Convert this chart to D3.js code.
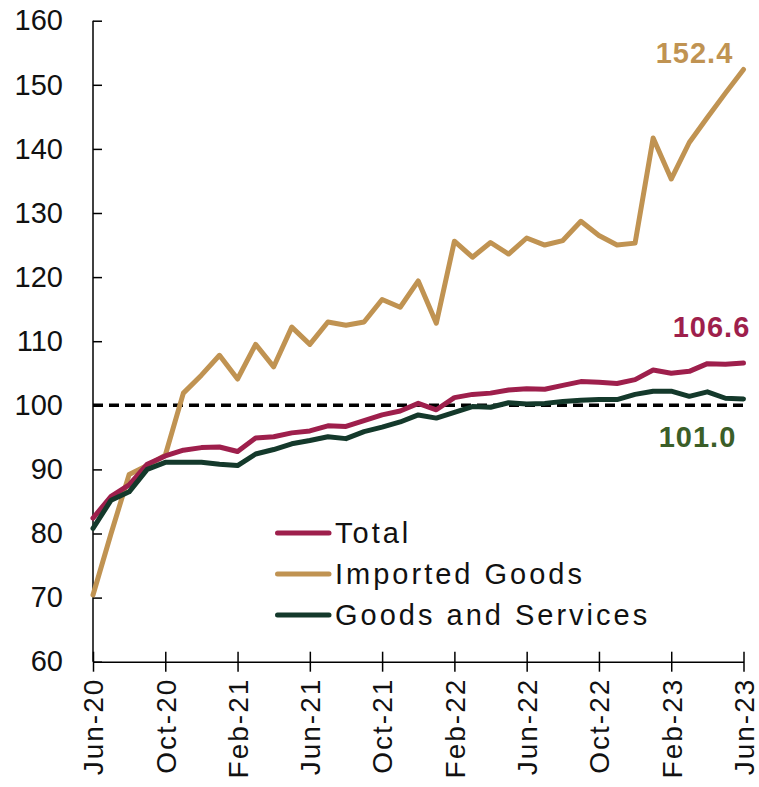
<!DOCTYPE html>
<html>
<head>
<meta charset="utf-8">
<script src="https://cdn.jsdelivr.net/npm/d3@7"></script>
<style>
  body { margin: 0; background: #fff; }
  text { font-family: "Liberation Sans", "DejaVu Sans", sans-serif; }
</style>
</head>
<body>
<svg id="chart" width="759" height="787"></svg>
<script>
// months Jun-20 .. Jun-23
var months = ["Jun-20","Jul-20","Aug-20","Sep-20","Oct-20","Nov-20","Dec-20","Jan-21","Feb-21","Mar-21","Apr-21","May-21",
  "Jun-21","Jul-21","Aug-21","Sep-21","Oct-21","Nov-21","Dec-21","Jan-22","Feb-22","Mar-22","Apr-22","May-22",
  "Jun-22","Jul-22","Aug-22","Sep-22","Oct-22","Nov-22","Dec-22","Jan-23","Feb-23","Mar-23","Apr-23","May-23","Jun-23"];

var total = [82.4,85.8,87.6,90.8,92.1,93.0,93.4,93.5,92.8,94.9,95.1,95.7,
  96.0,96.8,96.7,97.6,98.5,99.1,100.3,99.3,101.2,101.7,101.9,102.4,
  102.6,102.5,103.1,103.7,103.6,103.4,104.0,105.5,105.0,105.3,106.5,106.4,106.6];

var imported = [70.4,80.0,89.2,90.6,92.2,101.9,104.7,107.8,104.1,109.5,106.0,112.2,
  109.5,113.0,112.5,113.0,116.5,115.3,119.4,112.8,125.6,123.1,125.4,123.6,
  126.1,125.0,125.7,128.7,126.5,125.0,125.3,141.7,135.3,141.0,144.9,148.7,152.4];

var goodsServices = [80.8,85.2,86.5,90.0,91.1,91.1,91.1,90.8,90.6,92.4,93.1,94.0,
  94.5,95.1,94.8,95.9,96.6,97.4,98.5,98.0,98.9,99.8,99.7,100.4,
  100.2,100.3,100.6,100.8,100.9,100.9,101.7,102.2,102.2,101.4,102.1,101.1,101.0];

var yTicks = [60,70,80,90,100,110,120,130,140,150,160];
var xTickLabels = ["Jun-20","Oct-20","Feb-21","Jun-21","Oct-21","Feb-22","Jun-22","Oct-22","Feb-23","Jun-23"];

var series = [
  { name: "Total", values: total, color: "#9e1f4c", label: "106.6", labelColor: "#9e1f4c" },
  { name: "Imported Goods", values: imported, color: "#c09352", label: "152.4", labelColor: "#c09352" },
  { name: "Goods and Services", values: goodsServices, color: "#14392b", label: "101.0", labelColor: "#3b5e28" }
];

var margin = { top: 20.7, right: 15.5, bottom: 125.3, left: 93 };
var width = 759 - margin.left - margin.right,
    height = 787 - margin.top - margin.bottom;

var svg = d3.select("#chart");
var g = svg.append("g").attr("transform", "translate(" + margin.left + "," + margin.top + ")");

var x = d3.scalePoint().domain(months).range([0, width]);
var y = d3.scaleLinear().domain([60, 160]).range([height, 0]);

// y axis, ticks pointing inward
var yAxis = d3.axisRight(y).tickValues(yTicks).tickSize(9).tickFormat(d3.format("d"));
var yg = g.append("g").call(yAxis);
yg.select(".domain").attr("d", "M0," + height + "V0").attr("stroke", "#000").attr("stroke-width", 1.5);
yg.selectAll(".tick line").attr("stroke-width", 1.5);
yg.selectAll(".tick text")
  .attr("x", -30).attr("text-anchor", "end")
  .style("font-size", "29px").attr("fill", "#111");

// x axis, crossing ticks
var xAxis = d3.axisBottom(x).tickValues(xTickLabels).tickSize(10).tickSizeOuter(0);
var xg = g.append("g").attr("transform", "translate(0," + height + ")").call(xAxis);
xg.select(".domain").attr("stroke-width", 1.5);
xg.selectAll(".tick line").attr("y1", -10).attr("stroke-width", 1.5);
xg.selectAll(".tick text")
  .attr("transform", "rotate(-90)")
  .attr("x", -16).attr("y", 0).attr("dy", "0.35em")
  .attr("text-anchor", "end")
  .style("font-size", "28px").style("letter-spacing", "2px").attr("fill", "#111");

// reference line at 100
g.append("line")
  .attr("x1", 0).attr("x2", width)
  .attr("y1", y(100)).attr("y2", y(100))
  .attr("stroke", "#000").attr("stroke-width", 3.5)
  .attr("stroke-dasharray", "10,6");

var line = d3.line()
  .x(function (d, i) { return x(months[i]); })
  .y(function (d) { return y(d); });

// draw imported first so total and goods sit on top
[series[1], series[0], series[2]].forEach(function (s) {
  g.append("path")
    .datum(s.values)
    .attr("fill", "none")
    .attr("stroke", s.color)
    .attr("stroke-width", 5)
    .attr("stroke-linejoin", "round")
    .attr("stroke-linecap", "round")
    .attr("d", line);
});

// end labels (offsets from last point)
var last = months[months.length - 1];
var labelPos = [
  { s: series[1], dx: -49, dy: -6 },
  { s: series[0], dx: -32, dy: -26 },
  { s: series[2], dx: -46, dy: 48 }
];
labelPos.forEach(function (p) {
  g.append("text")
    .attr("x", x(last) + p.dx)
    .attr("y", y(p.s.values[p.s.values.length - 1]) + p.dy)
    .attr("text-anchor", "middle")
    .style("font-size", "29px").style("font-weight", "bold").style("letter-spacing", "1px")
    .attr("fill", p.s.labelColor)
    .text(p.s.label);
});

// legend
var legend = g.append("g").attr("transform", "translate(" + (275 - margin.left) + "," + (533 - margin.top) + ")");
series.forEach(function (s, i) {
  var row = legend.append("g").attr("transform", "translate(0," + (i * 41) + ")");
  row.append("line")
    .attr("x1", 2.5).attr("x2", 54)
    .attr("stroke", s.color).attr("stroke-width", 5).attr("stroke-linecap", "round");
  row.append("text")
    .attr("x", 60).attr("dy", "0.36em")
    .style("font-size", "29px").style("letter-spacing", "3px").attr("fill", "#111")
    .text(s.name);
});
</script>
</body>
</html>
